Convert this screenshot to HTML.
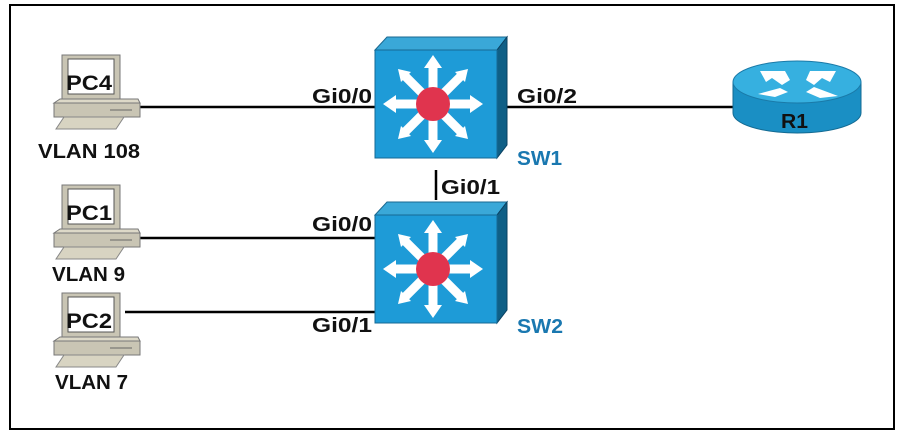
<!DOCTYPE html>
<html><head><style>
body{margin:0;background:#fff;}
svg{display:block;font-family:"Liberation Sans",sans-serif;font-weight:bold;}
</style></head><body>
<svg width="902" height="434" viewBox="0 0 902 434">
<rect x="0" y="0" width="902" height="434" fill="#fff"/>
<rect x="10" y="5" width="884" height="424" fill="none" stroke="#000" stroke-width="2"/>
<defs>
<g id="pc">
  <rect x="8" y="0" width="58" height="46" fill="#c9c5b4" stroke="#777" stroke-width="1"/>
  <rect x="14" y="4" width="46" height="35" fill="#fff" stroke="#555" stroke-width="1"/>
  <polygon points="0,48 6,44 84,44 86,48" fill="#ddd9c8" stroke="#777"/>
  <rect x="0" y="48" width="86" height="14" fill="#c9c5b4" stroke="#777"/>
  <line x1="56" y1="55" x2="78" y2="55" stroke="#666"/>
  <polygon points="10,62 70,62 62,74 2,74" fill="#d8d4c2" stroke="#888"/>
</g>
<g id="sw">
  <polygon points="0,13 12,0 132,0 122,13" fill="#3aa8d8" stroke="#1a6890"/>
  <polygon points="122,13 132,0 132,108 122,121" fill="#0f5f86" stroke="#0a4060"/>
  <rect x="0" y="13" width="122" height="108" fill="#1e9bd7" stroke="#156a95"/>
  <g stroke="#fff" stroke-width="9" stroke-linecap="butt">
    <line x1="58" y1="67" x2="58" y2="28"/><line x1="58" y1="67" x2="58" y2="106"/>
    <line x1="58" y1="67" x2="18" y2="67"/><line x1="58" y1="67" x2="98" y2="67"/>
    <line x1="58" y1="67" x2="30" y2="39"/><line x1="58" y1="67" x2="86" y2="39"/>
    <line x1="58" y1="67" x2="30" y2="95"/><line x1="58" y1="67" x2="86" y2="95"/>
  </g>
  <g fill="#fff">
    <polygon points="58,18 49,31 67,31"/><polygon points="58,116 49,103 67,103"/>
    <polygon points="8,67 21,58 21,76"/><polygon points="108,67 95,58 95,76"/>
    <polygon points="23,32 36,35 26,45"/><polygon points="93,32 80,35 90,45"/>
    <polygon points="23,102 26,89 36,99"/><polygon points="93,102 90,89 80,99"/>
  </g>
  <circle cx="58" cy="67" r="17" fill="#e0344e"/>
</g>
</defs>
<g stroke="#000" stroke-width="2.5">
<line x1="140" y1="107" x2="376" y2="107"/>
<line x1="507" y1="107" x2="736" y2="107"/>
<line x1="140" y1="238" x2="376" y2="238"/>
<line x1="125" y1="312" x2="376" y2="312"/>
<line x1="436" y1="170" x2="436" y2="200"/>
</g>
<use href="#pc" x="54" y="55"/>
<use href="#pc" x="54" y="185"/>
<use href="#pc" x="54" y="293"/>
<g font-size="21" fill="#111">
<text x="66" y="90" textLength="46" lengthAdjust="spacingAndGlyphs">PC4</text>
<text x="66" y="220" textLength="46" lengthAdjust="spacingAndGlyphs">PC1</text>
<text x="66" y="328" textLength="46" lengthAdjust="spacingAndGlyphs">PC2</text>
</g>
<g font-size="20" fill="#111">
<text x="38" y="158" textLength="102" lengthAdjust="spacingAndGlyphs">VLAN 108</text>
<text x="52" y="281" textLength="73" lengthAdjust="spacingAndGlyphs">VLAN 9</text>
<text x="55" y="389" textLength="73" lengthAdjust="spacingAndGlyphs">VLAN 7</text>
</g>
<use href="#sw" x="375" y="37"/>
<use href="#sw" x="375" y="202"/>
<path d="M733,82 L733,113 A64,20 0 0 0 861,113 L861,82 Z" fill="#1a8fc4" stroke="#136a92"/>
<ellipse cx="797" cy="82" rx="64" ry="21" fill="#36b0e0" stroke="#1a7aa8"/>
<g fill="#fff">
<polygon points="760,71 785,71 790,80 782,85 772,78 766,82"/>
<polygon points="836,71 810,71 806,80 814,85 822,78 830,82"/>
<polygon points="758,94 780,88 788,92 775,97"/>
<polygon points="838,96 814,87 806,92 820,98"/>
</g>
<text x="781" y="128" font-size="20" fill="#111" textLength="27" lengthAdjust="spacingAndGlyphs">R1</text>
<g font-size="20" fill="#111">
<text x="312" y="103" textLength="60" lengthAdjust="spacingAndGlyphs">Gi0/0</text>
<text x="517" y="103" textLength="60" lengthAdjust="spacingAndGlyphs">Gi0/2</text>
<text x="441" y="194" textLength="59" lengthAdjust="spacingAndGlyphs">Gi0/1</text>
<text x="312" y="231" textLength="60" lengthAdjust="spacingAndGlyphs">Gi0/0</text>
<text x="312" y="332" textLength="60" lengthAdjust="spacingAndGlyphs">Gi0/1</text>
</g>
<g font-size="20" fill="#1a78b0">
<text x="517" y="165" textLength="45" lengthAdjust="spacingAndGlyphs">SW1</text>
<text x="517" y="333" textLength="46" lengthAdjust="spacingAndGlyphs">SW2</text>
</g>
</svg>
</body></html>
